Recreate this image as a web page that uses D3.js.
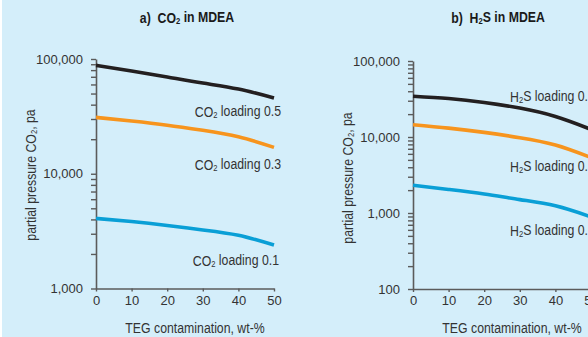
<!DOCTYPE html>
<html>
<head>
<meta charset="utf-8">
<script src="https://cdn.jsdelivr.net/npm/d3@7/dist/d3.min.js"></script>
<style>
  html, body { margin: 0; padding: 0; background: #ffffff; }
  svg { display: block; }
  text { font-family: 'Liberation Sans', Arial, Helvetica, sans-serif; }
</style>
</head>
<body>
<svg id="chart" width="588" height="337"></svg>
<script>
// TEG contamination (wt-%) at which each curve is given
const teg = [0, 10, 20, 30, 40, 50];

// Panel a: CO2 partial pressure over MDEA (Pa)
const co2Load05 = [88000, 78700, 69800, 61700, 54700, 45700];
const co2Load03 = [31000, 28800, 26500, 23900, 21000, 16970];
const co2Load01 = [4080, 3830, 3540, 3240, 2910, 2390];

// Panel b: H2S partial pressure over MDEA (Pa)
const h2sLoad05 = [34400, 32100, 28500, 24000, 18600, 12600];
const h2sLoad03 = [14500, 13100, 11500, 9800, 7850, 5370];
const h2sLoad01 = [2315, 2040, 1780, 1500, 1245, 890];

const xTicks = [0, 10, 20, 30, 40, 50];
const yTicksA = [1000, 10000, 100000];
const yTicksB = [100, 1000, 10000, 100000];

const colors = { high: "#231f20", mid: "#f7941d", low: "#0a9fd6" };
const inkColor = "#333333";
const axisColor = "#5b5b5b";
const NARROW = 0.82; // horizontal squeeze giving a condensed face

const svg = d3.select("#chart");
svg.append("rect").attr("x", 2).attr("y", 0).attr("width", 586).attr("height", 337).attr("fill", "#d4eefa");

// Condensed text anchored at (x, y), optionally rotated
function narrowText(parent, x, y, size, anchor, rotate) {
  return parent.append("text")
    .attr("transform", `translate(${x},${y})${rotate ? ` rotate(${rotate})` : ""} scale(${NARROW},1)`)
    .attr("font-size", size).attr("fill", inkColor)
    .attr("text-anchor", anchor).attr("dominant-baseline", "middle");
}

// Writes prefix + subscript + suffix into a text element
function subText(sel, prefix, sub, suffix) {
  sel.append("tspan").text(prefix);
  sel.append("tspan").attr("font-size", "0.62em").attr("dy", "0.3em").text(sub);
  sel.append("tspan").attr("dy", "-0.3em").text(suffix);
}

function panel(cfg) {
  const g = svg.append("g");
  const x = d3.scaleLinear().domain([0, 50]).range([cfg.x0, cfg.x0 + 178]);
  const y = d3.scaleLog().domain(cfg.yDomain).range([cfg.yBottom, cfg.yTop]);

  // minor ticks on the log axis: 2..9 within each decade
  const minor = [];
  for (let d = cfg.yDomain[0]; d < cfg.yDomain[1]; d *= 10) {
    for (let k = 2; k <= 9; k++) minor.push(d * k);
  }
  const yAxis = d3.axisLeft(y).tickValues(cfg.yTicks.concat(minor))
    .tickFormat(v => cfg.yTicks.includes(v) ? d3.format(",")(v) : "")
    .tickSizeInner(5).tickSizeOuter(0).tickPadding(8);
  const ya = g.append("g").attr("transform", `translate(${cfg.x0},0)`).call(yAxis)
    .attr("font-family", null).attr("font-size", null);
  ya.select(".domain").attr("stroke", axisColor).attr("stroke-width", 1.6);
  ya.selectAll(".tick line").attr("stroke", axisColor).attr("stroke-width", 1.4);
  ya.selectAll(".tick text").attr("font-size", 13).attr("fill", inkColor);

  const xAxis = d3.axisBottom(x).tickValues(xTicks).tickSizeInner(3).tickSizeOuter(0).tickPadding(4);
  const xa = g.append("g").attr("transform", `translate(0,${cfg.yBottom})`).call(xAxis)
    .attr("font-family", null).attr("font-size", null);
  xa.select(".domain").attr("stroke", axisColor).attr("stroke-width", 1.6);
  xa.selectAll(".tick line").attr("stroke", axisColor).attr("stroke-width", 1.4);
  xa.selectAll(".tick text").attr("font-size", 13).attr("fill", inkColor);

  const line = d3.line().x((d, i) => x(teg[i])).y(d => y(d)).curve(d3.curveNatural);
  cfg.series.forEach(s => {
    g.append("path").datum(s.values).attr("d", line)
      .attr("fill", "none").attr("stroke", s.color).attr("stroke-width", 3.6);
    const t = narrowText(g, s.lx, s.ly, 15, s.anchor);
    subText(t, cfg.gas[0], "2", cfg.gas[1] + " loading " + s.load);
  });

  // panel title
  const title = narrowText(g, cfg.titleX, 19, 15, "middle")
    .attr("font-weight", "bold").attr("fill", "#1a1a1a");
  subText(title, cfg.titlePrefix + "\u00a0\u00a0" + cfg.gas[0], "2", cfg.gas[1] + " in MDEA");

  // axis titles
  narrowText(g, cfg.x0 + 99, 329, 15, "middle").text("TEG contamination, wt-%");
  const yt = narrowText(g, cfg.yTitleX, cfg.yTitleY, 15, "middle", -90);
  subText(yt, "partial pressure CO", "2", ", pa");
}

panel({
  x0: 96, yDomain: [1000, 100000], yTop: 59, yBottom: 288.5, yTicks: yTicksA,
  gas: ["CO", ""], titlePrefix: "a)", titleX: 187, yTitleX: 32, yTitleY: 175,
  series: [
    { values: co2Load05, color: colors.high, load: "0.5", lx: 281, ly: 113, anchor: "end" },
    { values: co2Load03, color: colors.mid, load: "0.3", lx: 281, ly: 166, anchor: "end" },
    { values: co2Load01, color: colors.low, load: "0.1", lx: 279, ly: 262, anchor: "end" }
  ]
});

panel({
  x0: 413, yDomain: [100, 100000], yTop: 61, yBottom: 289, yTicks: yTicksB,
  gas: ["H", "S"], titlePrefix: "b)", titleX: 498, yTitleX: 349, yTitleY: 178,
  series: [
    { values: h2sLoad05, color: colors.high, load: "0.5", lx: 510, ly: 98, anchor: "start" },
    { values: h2sLoad03, color: colors.mid, load: "0.3", lx: 510, ly: 168, anchor: "start" },
    { values: h2sLoad01, color: colors.low, load: "0.1", lx: 510, ly: 232, anchor: "start" }
  ]
});
</script>
</body>
</html>
